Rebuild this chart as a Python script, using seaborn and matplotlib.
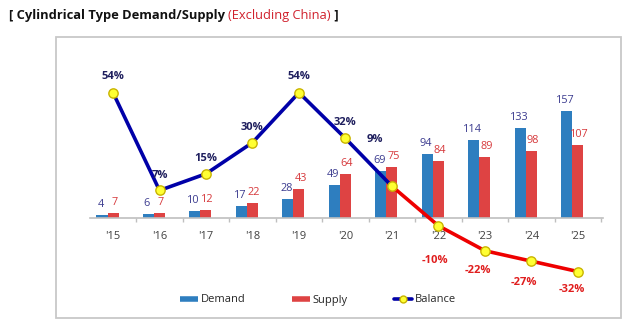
import matplotlib
matplotlib.use("Agg")
import matplotlib.pyplot as plt
import seaborn as sns
import pandas as pd
from matplotlib.lines import Line2D
from matplotlib.patches import Rectangle

# ---- data -------------------------------------------------------------
years = ["'15", "'16", "'17", "'18", "'19", "'20", "'21", "'22", "'23", "'24", "'25"]
demand = [4, 6, 10, 17, 28, 49, 69, 94, 114, 133, 157]
supply = [7, 7, 12, 22, 43, 64, 75, 84, 89, 98, 107]
balance = [54, 7, 15, 30, 54, 32, 9, -10, -22, -27, -32]

# ---- style ------------------------------------------------------------
DEMAND_COLOR = "#2e7ebf"
SUPPLY_COLOR = "#de4343"
DEMAND_TEXT = "#3b3b8f"
SUPPLY_TEXT = "#d6383b"
LINE_POS = "#0000a8"
LINE_NEG = "#ee0000"
BAL_POS_TEXT = "#1f1f5e"
BAL_NEG_TEXT = "#e01e1e"
MARKER_FACE = "#ffff33"
MARKER_EDGE = "#c9b400"
AXIS_GRAY = "#bfbfbf"

# label offsets (pixels) for the balance percentages
bal_label_offsets = [(0, 16), (0, 15), (0, 15), (0, 15), (0, 16), (0, 16),
                     (-17, 47), (-3, -35), (-7, -20), (-8, -21), (-6, -18)]

sns.set_theme(style="white")
plt.rcParams["font.family"] = ["Open Sans", "DejaVu Sans"]

fig = plt.figure(figsize=(6.4, 3.29), dpi=100)
fig.patch.set_facecolor("white")
W, H = 640, 329
ax = fig.add_axes([90 / W, 1 - 280 / H, 513 / W, 230 / H])
ax.set_facecolor("none")

n = len(years)
df = pd.DataFrame({
    "year": years * 2,
    "value": demand + supply,
    "series": ["Demand"] * n + ["Supply"] * n,
})

group_width = 0.474
sns.barplot(data=df, x="year", y="value", hue="series",
            palette=[DEMAND_COLOR, SUPPLY_COLOR], width=group_width,
            errorbar=None, legend=False, saturation=1, ax=ax)

# supply bar sits on the category centre, demand bar right beside it
for cont in ax.containers:
    for bar in cont:
        bar.set_x(bar.get_x() - group_width / 4)
        bar.set_linewidth(0)

# value labels above each bar
for cont, vals, col, dx in ((ax.containers[0], demand, DEMAND_TEXT, -1.5),
                            (ax.containers[1], supply, SUPPLY_TEXT, 1.5)):
    for bar, v in zip(cont, vals):
        ax.annotate(str(v), (bar.get_x() + bar.get_width() / 2, bar.get_height()),
                    xytext=(dx, 5), textcoords="offset pixels",
                    ha="center", va="bottom", fontsize=7.8, color=col)

ax.set_xlim(-0.495, 10.54)
ax.set_ylim(-91.2, 247)
ax.set_xlabel("")
ax.set_ylabel("")
ax.set_yticks([])
for side in ("left", "right", "top"):
    ax.spines[side].set_visible(False)
ax.spines["bottom"].set_position(("data", 0))
ax.spines["bottom"].set_color(AXIS_GRAY)
ax.spines["bottom"].set_linewidth(1.2)

ax.set_xticks(range(n))
ax.set_xticklabels(years)
ax.set_xticks([i - 0.5 for i in range(n + 1)], minor=True)
ax.tick_params(axis="x", which="major", length=0, pad=9.5, labelsize=8,
               labelcolor="#404040")
ax.tick_params(axis="x", which="minor", bottom=True, length=3, width=1,
               color=AXIS_GRAY, direction="out")

# ---- balance line on a secondary scale ---------------------------------
ax2 = ax.twinx()
ax2.set_ylim(-36.06, 74.5)
ax2.set_yticks([])
for side in ax2.spines:
    ax2.spines[side].set_visible(False)

pos = list(range(n))
split = max(i for i, v in enumerate(balance) if v >= 0)
sns.lineplot(x=pos[:split + 1], y=balance[:split + 1], color=LINE_POS,
             linewidth=2.6, ax=ax2, zorder=2)
sns.lineplot(x=pos[split:], y=balance[split:], color=LINE_NEG,
             linewidth=2.6, ax=ax2, zorder=2)
sns.scatterplot(x=pos, y=balance, s=45, color=MARKER_FACE,
                edgecolor=MARKER_EDGE, linewidth=1, ax=ax2, zorder=3)
ax2.set_xlim(-0.495, 10.54)

for i, v in enumerate(balance):
    ax2.annotate(f"{v}%", (i, v), xytext=bal_label_offsets[i],
                 textcoords="offset pixels", ha="center", va="center",
                 fontsize=8, fontweight="bold",
                 color=BAL_POS_TEXT if v >= 0 else BAL_NEG_TEXT)

# ---- legend ---------------------------------------------------------------
handles = [
    Line2D([], [], color=DEMAND_COLOR, linewidth=4, solid_capstyle="butt"),
    Line2D([], [], color=SUPPLY_COLOR, linewidth=4, solid_capstyle="butt"),
    Line2D([], [], color=LINE_POS, linewidth=2.6, marker="o", markersize=5,
           markerfacecolor=MARKER_FACE, markeredgecolor=MARKER_EDGE),
]
fig.legend(handles, ["Demand", "Supply", "Balance"], loc="center",
           bbox_to_anchor=(318 / W, 1 - 300 / H), ncol=3, frameon=False,
           fontsize=8, handlelength=1.6, handletextpad=0.25,
           columnspacing=4.2)

# ---- frame around the chart -------------------------------------------------
fig.add_artist(Rectangle((56 / W, 1 - 318 / H), 565 / W, 281 / H,
                         transform=fig.transFigure, fill=False,
                         edgecolor="#c8c8c8", linewidth=1.3))

# ---- title (three differently styled pieces) --------------------------------
pieces = [("[ Cylindrical Type Demand/Supply ", "#111111", "bold"),
          ("(Excluding China)", "#d0202c", "normal"),
          (" ]", "#111111", "bold")]
fig.canvas.draw()
renderer = fig.canvas.get_renderer()
x_px = 9
for txt, col, wt in pieces:
    t = fig.text(x_px / W, 1 - 15 / H, txt, color=col, fontweight=wt,
                 fontsize=9.3, ha="left", va="center")
    bb = t.get_window_extent(renderer=renderer)
    x_px = bb.x1

fig.savefig("out.png", dpi=100, facecolor="white")
